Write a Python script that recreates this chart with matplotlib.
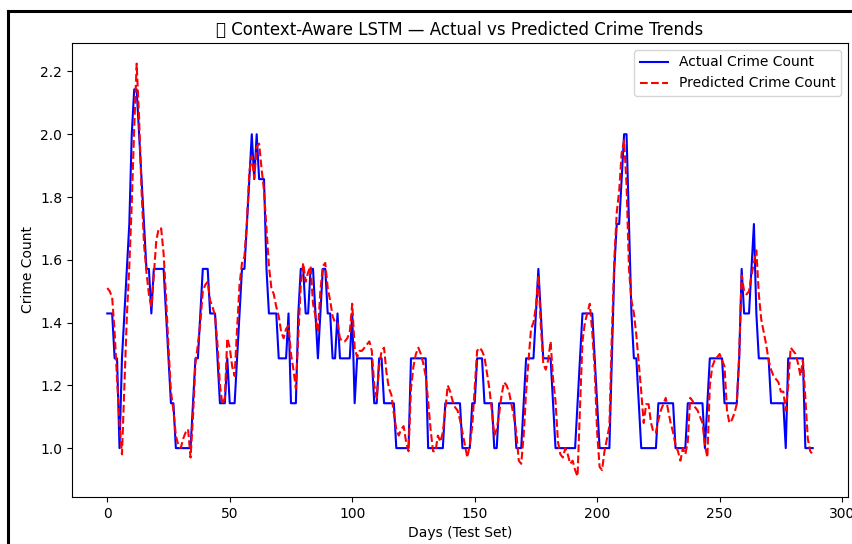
import matplotlib
matplotlib.use("Agg")
import matplotlib.pyplot as plt
from matplotlib.lines import Line2D

# Actual weekly-averaged crime count (days 0..288)
actual = [
    1.429, 1.429, 1.429, 1.286, 1.286, 1.0, 1.286, 1.429, 1.571, 1.714,
    2.0, 2.143, 2.143, 2.0, 1.857, 1.714, 1.571, 1.571, 1.429, 1.571,
    1.571, 1.571, 1.571, 1.571, 1.429, 1.286, 1.143, 1.143, 1.0, 1.0,
    1.0, 1.0, 1.0, 1.0, 1.0, 1.143, 1.286, 1.286, 1.429, 1.571,
    1.571, 1.571, 1.429, 1.429, 1.429, 1.286, 1.143, 1.143, 1.143, 1.286,
    1.143, 1.143, 1.143, 1.286, 1.429, 1.571, 1.571, 1.714, 1.857, 2.0,
    1.857, 2.0, 1.857, 1.857, 1.857, 1.571, 1.429, 1.429, 1.429, 1.429,
    1.286, 1.286, 1.286, 1.286, 1.429, 1.143, 1.143, 1.143, 1.429, 1.571,
    1.571, 1.429, 1.429, 1.571, 1.571, 1.429, 1.286, 1.429, 1.571, 1.571,
    1.429, 1.429, 1.286, 1.286, 1.429, 1.286, 1.286, 1.286, 1.286, 1.286,
    1.429, 1.143, 1.286, 1.286, 1.286, 1.286, 1.286, 1.286, 1.286, 1.143,
    1.143, 1.286, 1.286, 1.143, 1.143, 1.143, 1.143, 1.143, 1.0, 1.0,
    1.0, 1.0, 1.0, 1.0, 1.286, 1.286, 1.286, 1.286, 1.286, 1.286,
    1.286, 1.0, 1.0, 1.0, 1.0, 1.0, 1.0, 1.0, 1.143, 1.143,
    1.143, 1.143, 1.143, 1.143, 1.143, 1.0, 1.0, 1.0, 1.0, 1.143,
    1.143, 1.286, 1.286, 1.286, 1.143, 1.143, 1.143, 1.143, 1.0, 1.0,
    1.143, 1.143, 1.143, 1.143, 1.143, 1.143, 1.143, 1.0, 1.0, 1.0,
    1.143, 1.286, 1.286, 1.286, 1.286, 1.429, 1.571, 1.429, 1.286, 1.286,
    1.286, 1.286, 1.143, 1.0, 1.0, 1.0, 1.0, 1.0, 1.0, 1.0,
    1.0, 1.0, 1.143, 1.286, 1.429, 1.429, 1.429, 1.429, 1.429, 1.286,
    1.143, 1.0, 1.0, 1.0, 1.0, 1.0, 1.286, 1.571, 1.714, 1.714,
    1.857, 2.0, 2.0, 1.714, 1.429, 1.286, 1.286, 1.143, 1.0, 1.0,
    1.0, 1.0, 1.0, 1.0, 1.0, 1.143, 1.143, 1.143, 1.143, 1.143,
    1.143, 1.143, 1.0, 1.0, 1.0, 1.0, 1.0, 1.143, 1.143, 1.143,
    1.143, 1.143, 1.143, 1.143, 1.0, 1.143, 1.286, 1.286, 1.286, 1.286,
    1.286, 1.286, 1.143, 1.143, 1.143, 1.143, 1.143, 1.143, 1.286, 1.571,
    1.429, 1.429, 1.429, 1.571, 1.714, 1.429, 1.286, 1.286, 1.286, 1.286,
    1.286, 1.143, 1.143, 1.143, 1.143, 1.143, 1.143, 1.0, 1.286, 1.286,
    1.286, 1.286, 1.286, 1.286, 1.286, 1.0, 1.0, 1.0, 1.0,
]

# LSTM prediction
predicted = [
    1.51, 1.50, 1.48, 1.37, 1.22, 1.08, 0.98, 1.20, 1.42, 1.58,
    1.78, 2.02, 2.225, 2.05, 1.82, 1.65, 1.56, 1.49, 1.45, 1.55,
    1.66, 1.70, 1.70, 1.62, 1.48, 1.32, 1.18, 1.12, 1.04, 1.01,
    1.00, 1.03, 1.05, 1.06, 0.97, 1.10, 1.27, 1.33, 1.40, 1.50,
    1.52, 1.53, 1.47, 1.45, 1.42, 1.33, 1.20, 1.14, 1.16, 1.35,
    1.32, 1.26, 1.23, 1.38, 1.52, 1.59, 1.61, 1.72, 1.88, 1.93,
    1.86, 1.96, 1.97, 1.89, 1.82, 1.70, 1.58, 1.51, 1.49, 1.45,
    1.42, 1.37, 1.35, 1.38, 1.39, 1.30, 1.25, 1.19, 1.36, 1.52,
    1.59, 1.53, 1.56, 1.58, 1.46, 1.42, 1.37, 1.50, 1.58, 1.59,
    1.51, 1.47, 1.42, 1.40, 1.40, 1.35, 1.34, 1.34, 1.35, 1.37,
    1.46, 1.32, 1.29, 1.31, 1.31, 1.32, 1.33, 1.34, 1.31, 1.20,
    1.16, 1.26, 1.31, 1.32, 1.24, 1.19, 1.17, 1.11, 1.06, 1.04,
    1.06, 1.07, 1.02, 0.99, 1.19, 1.26, 1.30, 1.32, 1.30, 1.27,
    1.23, 1.15, 1.06, 0.99, 0.99, 1.04, 1.02, 1.05, 1.12, 1.20,
    1.18, 1.15, 1.13, 1.12, 1.09, 1.05, 1.01, 0.97, 1.01, 1.07,
    1.19, 1.31, 1.32, 1.31, 1.29, 1.24, 1.19, 1.12, 1.04, 1.06,
    1.11, 1.17, 1.21, 1.20, 1.18, 1.14, 1.10, 1.05, 0.96, 0.95,
    1.04, 1.18, 1.28, 1.38, 1.40, 1.45, 1.55, 1.39, 1.27, 1.25,
    1.28, 1.34, 1.22, 1.15, 1.02, 0.98, 0.97, 1.00, 0.98, 0.95,
    0.96, 0.93, 0.91, 1.13, 1.34, 1.40, 1.43, 1.46, 1.37, 1.25,
    1.05, 0.94, 0.93, 0.99, 1.03, 1.07, 1.36, 1.60, 1.75, 1.82,
    1.94, 1.98, 1.84, 1.57, 1.47, 1.43, 1.36, 1.27, 1.18, 1.08,
    1.14, 1.14, 1.08, 1.05, 1.05, 1.09, 1.12, 1.14, 1.16, 1.12,
    1.08, 1.05, 1.01, 0.99, 0.96, 1.00, 0.98, 1.02, 1.16, 1.15,
    1.13, 1.12, 1.10, 1.08, 1.01, 0.97, 1.20, 1.26, 1.28, 1.29,
    1.30, 1.28, 1.26, 1.12, 1.08, 1.09, 1.11, 1.14, 1.30, 1.55,
    1.50, 1.49, 1.50, 1.55, 1.59, 1.63, 1.49, 1.41, 1.37, 1.33,
    1.28, 1.25, 1.23, 1.22, 1.21, 1.18, 1.18, 1.12, 1.20, 1.32,
    1.31, 1.30, 1.27, 1.23, 1.28, 1.16, 1.03, 0.99, 0.98,
]

days = list(range(len(actual)))

fig = plt.figure(figsize=(8.53, 5.44), dpi=100)
ax = fig.add_axes([0.0844, 0.0864, 0.9097, 0.8346])

ax.plot(days, actual, color='blue', label='Actual Crime Count')
ax.plot(days, predicted, color='red', linestyle='--', label='Predicted Crime Count')

ax.set_title('\U0001F4C8 Context-Aware LSTM \u2014 Actual vs Predicted Crime Trends')
ax.set_xlabel('Days (Test Set)')
ax.set_ylabel('Crime Count')
ax.legend(loc='upper right')

# frame of the screenshot (left and top edge)
fig.add_artist(Line2D([0.0098, 0.0098], [0.0, 0.98], transform=fig.transFigure,
                      color='black', linewidth=2.2))
fig.add_artist(Line2D([0.0098, 1.0], [0.98, 0.98], transform=fig.transFigure,
                      color='black', linewidth=2.2))

fig.savefig('out.png', dpi=100)
